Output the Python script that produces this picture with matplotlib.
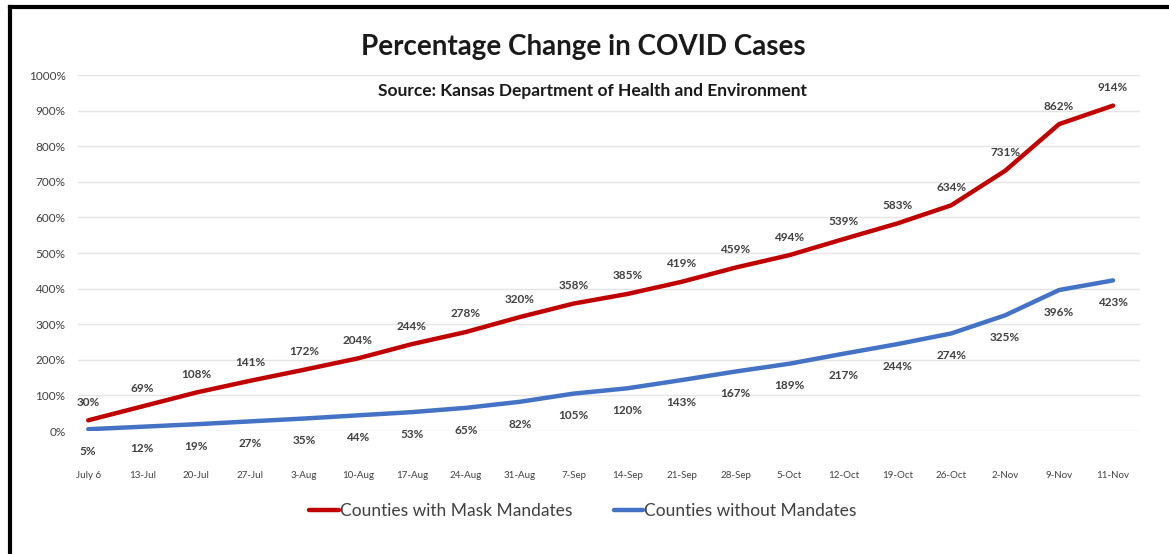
import matplotlib
matplotlib.use("Agg")
import matplotlib.pyplot as plt
from matplotlib.lines import Line2D

# ── Datos ────────────────────────────────────────────────────────────────────

weeks = ["July 6", "13-Jul", "20-Jul", "27-Jul", "3-Aug", "10-Aug", "17-Aug",
         "24-Aug", "31-Aug", "7-Sep", "14-Sep", "21-Sep", "28-Sep", "5-Oct",
         "12-Oct", "19-Oct", "26-Oct", "2-Nov", "9-Nov", "11-Nov"]
mask_pct = [30, 69, 108, 141, 172, 204, 244, 278, 320, 358, 385, 419, 459,
            494, 539, 583, 634, 731, 862, 914]
no_mask_pct = [5, 12, 19, 27, 35, 44, 53, 65, 82, 105, 120, 143, 167, 189,
               217, 244, 274, 325, 396, 423]
y_ticks = list(range(0, 1001, 100))

RED = "#c00000"
BLUE = "#4472c4"
TXT = "#404040"

plt.rcParams["font.family"] = ["Lato", "DejaVu Sans"]

W, H = 1169, 554
fig = plt.figure(figsize=(W / 100, H / 100), dpi=100)
ax = fig.add_axes([78 / W, 1 - 431 / H, (1140 - 78) / W, (431 - 75) / H])

x = list(range(len(weeks)))
ax.plot(x, mask_pct, color=RED, lw=3.2, solid_capstyle="round",
        solid_joinstyle="round", label="Counties with Mask Mandates", zorder=3)
ax.plot(x, no_mask_pct, color=BLUE, lw=3.2, solid_capstyle="round",
        solid_joinstyle="round", label="Counties without Mandates", zorder=3)

for xi, v in zip(x, mask_pct):
    ax.annotate(f"{v}%", (xi, v), xytext=(0, 13), textcoords="offset points",
                ha="center", va="center", fontsize=8.5, fontweight="bold",
                color=TXT, annotation_clip=False)
for xi, v in zip(x, no_mask_pct):
    ax.annotate(f"{v}%", (xi, v), xytext=(0, -16), textcoords="offset points",
                ha="center", va="center", fontsize=8.5, fontweight="bold",
                color=TXT, annotation_clip=False)

ax.set_xlim(-0.19, 19.5)
ax.set_ylim(0, 1000)
ax.set_yticks(y_ticks)
ax.set_yticklabels([f"{t}%" for t in y_ticks])
ax.set_xticks(x)
ax.set_xticklabels(weeks)
ax.tick_params(axis="x", length=0, pad=29, labelsize=7, labelcolor=TXT)
ax.tick_params(axis="y", length=0, pad=9, labelsize=8.5, labelcolor=TXT)
ax.yaxis.grid(True, color="#e4e4e4", lw=1, zorder=0)
for s in ax.spines.values():
    s.set_visible(False)

# títulos
fig.text(583 / W, 1 - 47 / H, "Percentage Change in COVID Cases",
         ha="center", va="center", fontsize=20, fontweight="bold", color="#1a1a1a")
fig.text(592 / W, 1 - 91 / H, "Source: Kansas Department of Health and Environment",
         ha="center", va="center", fontsize=12.5, fontweight="bold", color="#1a1a1a")

# leyenda
fig.legend(loc="center", bbox_to_anchor=(583 / W, 1 - 511 / H), ncol=2,
           frameon=False, fontsize=12.5, labelcolor=TXT, handlelength=1.7,
           handletextpad=0.05, columnspacing=2.4)

# marco
fig.add_artist(Line2D([10 / W, 10 / W], [0, 1 - 7 / H], color="black", lw=3,
                      transform=fig.transFigure))
fig.add_artist(Line2D([10 / W, 1], [1 - 7 / H, 1 - 7 / H], color="black", lw=3,
                      transform=fig.transFigure))

fig.savefig("out.png", dpi=100, facecolor="white")
